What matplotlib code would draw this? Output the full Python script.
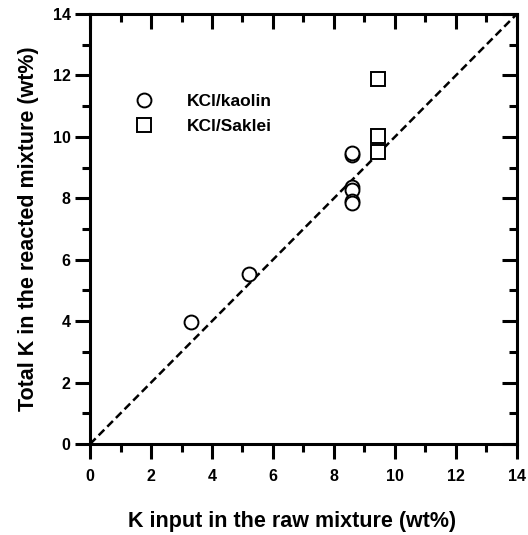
import matplotlib
matplotlib.use('Agg')
import matplotlib.pyplot as plt
from matplotlib.ticker import MultipleLocator
from matplotlib import lines as mlines

plt.rcParams['font.family'] = ['Liberation Sans', 'DejaVu Sans']
plt.rcParams['font.weight'] = 'bold'

# Datos
kaolin_x = [3.3, 5.2, 8.6, 8.6, 8.6, 8.6, 8.6, 8.6]
kaolin_y = [3.97, 5.53, 9.42, 9.48, 8.38, 8.28, 7.92, 7.85]
saklei_x = [9.45, 9.45, 9.45]
saklei_y = [11.88, 10.04, 9.50]

fig = plt.figure(figsize=(5.28, 5.35), dpi=100)
ax = fig.add_axes([0.1705, 0.170, 0.8085, 0.804])

# Linha 1:1
ax.plot([0, 14], [0, 14], color='black', linestyle=(0, (3.2, 1.7)), linewidth=1.8, zorder=1)

ax.plot(kaolin_x, kaolin_y, linestyle='none', marker='o', markersize=10,
        markerfacecolor='white', markeredgecolor='black', markeredgewidth=1.4,
        label='KCl/kaolin', zorder=3)
ax.plot(saklei_x, saklei_y, linestyle='none', marker='s', markersize=10,
        markerfacecolor='white', markeredgecolor='black', markeredgewidth=1.4,
        label='KCl/Saklei', zorder=3)

ax.set_xlim(0, 14)
ax.set_ylim(0, 14)
ax.xaxis.set_major_locator(MultipleLocator(2))
ax.xaxis.set_minor_locator(MultipleLocator(1))
ax.yaxis.set_major_locator(MultipleLocator(2))
ax.yaxis.set_minor_locator(MultipleLocator(1))

for s in ax.spines.values():
    s.set_linewidth(2.2)

ax.tick_params(which='both', width=2.2, labelsize=11.5, top=True, right=True,
               direction='out')
ax.tick_params(which='major', length=11)
ax.tick_params(which='minor', length=6)
ax.tick_params(axis='x', which='major', pad=7)
ax.tick_params(axis='y', which='major', pad=3)
# ticks internos nos eixos de cima e da direita
for t in ax.xaxis.get_major_ticks() + ax.xaxis.get_minor_ticks():
    t.tick2line.set_marker(mlines.TICKDOWN)
for t in ax.yaxis.get_major_ticks() + ax.yaxis.get_minor_ticks():
    t.tick2line.set_marker(mlines.TICKLEFT)

ax.set_xlabel('K input in the raw mixture (wt%)', fontsize=15.5, fontweight='bold')
ax.xaxis.set_label_coords(0.473, -0.155)
ax.set_ylabel('Total K in the reacted mixture (wt%)', fontsize=15.5, fontweight='bold', labelpad=10)

ax.legend(loc='upper left', bbox_to_anchor=(0.05, 0.85), frameon=False,
          fontsize=12.5, handletextpad=1.45, labelspacing=0.55)

fig.savefig('out.png', dpi=100)
